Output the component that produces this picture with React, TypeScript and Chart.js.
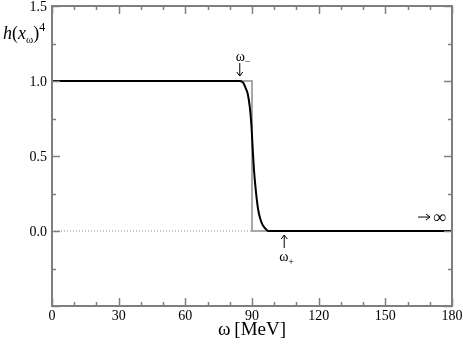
import React, { useEffect, useRef } from "react";
import { Chart, registerables } from "chart.js";

Chart.register(...registerables);

// Smooth form factor curve h(x_ω)^4
const omegaSmooth = [0, 40, 80, 84.6, 85.5, 86.2, 87.0, 88.1, 89.0, 89.7, 90.45, 90.9, 91.7, 92.8, 93.9, 94.8, 96.6, 97.4, 100, 140, 180];
const hSmooth = [1, 1, 1, 1, 0.995, 0.985, 0.958, 0.913, 0.827, 0.713, 0.513, 0.407, 0.273, 0.14, 0.073, 0.04, 0.007, 0, 0, 0, 0];

// Sharp step function
const omegaStep = [0, 90, 90, 180];
const hStep = [1, 1, 0, 0];

// Dotted zero line
const omegaDotted = [0, 90];
const hDotted = [0, 0];

// Tick values and labels
const xMajorTicks = [0, 30, 60, 90, 120, 150, 180];
const xTickLabels = ["0", "30", "60", "90", "120", "150", "180"];
const yMajorTicks = [0, 0.5, 1, 1.5];
const yTickLabels = ["0.0", "0.5", "1.0", "1.5"];

// Annotations (data positions)
const omegaMinusPos = [84.5, 1.0];
const omegaPlusPos = [104.5, 0.0];
const infinityPos = [164.7, 0.093];

const FONT = "'Liberation Serif', 'Times New Roman', serif";
const FRAME = "#7f7f7f";

const decorPlugin = {
  id: "decor",
  afterDraw(chart: any) {
    const ctx = chart.ctx;
    const xs = chart.scales.x;
    const ys = chart.scales.y;
    const a = chart.chartArea;
    ctx.save();
    // frame
    ctx.strokeStyle = FRAME;
    ctx.lineWidth = 2;
    ctx.strokeRect(a.left, a.top, a.right - a.left, a.bottom - a.top);
    // x ticks
    ctx.lineWidth = 1.5;
    for (let v = 0; v <= 180; v += 10) {
      const px = Math.round(xs.getPixelForValue(v)) + 0.5;
      const major = v % 30 === 0;
      const len = major ? 8 : 4;
      ctx.beginPath();
      ctx.moveTo(px, a.bottom);
      ctx.lineTo(px, a.bottom - len);
      ctx.moveTo(px, a.top);
      ctx.lineTo(px, a.top + len);
      ctx.stroke();
    }
    // y ticks
    for (let i = 0; i <= 8; i++) {
      const v = -0.5 + i * 0.25;
      const py = Math.round(ys.getPixelForValue(v)) + 0.5;
      const major = i % 2 === 0;
      const len = major ? 8 : 4;
      ctx.beginPath();
      ctx.moveTo(a.left, py);
      ctx.lineTo(a.left + len, py);
      ctx.moveTo(a.right, py);
      ctx.lineTo(a.right - len, py);
      ctx.stroke();
    }

    ctx.fillStyle = "#000";
    ctx.strokeStyle = "#000";

    // tick labels
    ctx.font = `14px ${FONT}`;
    ctx.textBaseline = "middle";
    ctx.textAlign = "right";
    yMajorTicks.forEach((v, i) => {
      ctx.fillText(yTickLabels[i], a.left - 5, ys.getPixelForValue(v) + 1);
    });
    ctx.textAlign = "center";
    ctx.textBaseline = "top";
    xMajorTicks.forEach((v, i) => {
      ctx.fillText(xTickLabels[i], xs.getPixelForValue(v), a.bottom + 3);
    });

    ctx.textBaseline = "alphabetic";
    // y-axis title h(x_ω)^4
    let x = 3;
    const by = 39;
    ctx.textAlign = "left";
    const seg = (t: string, font: string, dy: number) => {
      ctx.font = font;
      ctx.fillText(t, x, by + dy);
      x += ctx.measureText(t).width;
    };
    seg("h", `italic 18px ${FONT}`, 0);
    seg("(", `18px ${FONT}`, 0);
    seg("x", `italic 18px ${FONT}`, 0);
    seg("ω", `11px ${FONT}`, 4);
    seg(")", `18px ${FONT}`, 0);
    seg("4", `12px ${FONT}`, -8);

    // x-axis title
    ctx.textAlign = "center";
    ctx.font = `19px ${FONT}`;
    ctx.fillText("ω\u2009[MeV]", (a.left + a.right) / 2, 335);

    // ω- annotation
    const mx = xs.getPixelForValue(omegaMinusPos[0]);
    const my = ys.getPixelForValue(omegaMinusPos[1]);
    ctx.lineWidth = 1;
    ctx.beginPath();
    ctx.moveTo(mx, my - 18);
    ctx.lineTo(mx, my - 5);
    ctx.moveTo(mx - 3, my - 9);
    ctx.lineTo(mx, my - 5);
    ctx.lineTo(mx + 3, my - 9);
    ctx.stroke();
    ctx.textAlign = "left";
    ctx.font = `14px ${FONT}`;
    ctx.fillText("ω", mx - 4, my - 20);
    ctx.font = `10px ${FONT}`;
    ctx.fillText("−", mx + 5, my - 16);

    // ω+ annotation
    const px = xs.getPixelForValue(omegaPlusPos[0]);
    const py = ys.getPixelForValue(omegaPlusPos[1]);
    ctx.beginPath();
    ctx.moveTo(px, py + 17);
    ctx.lineTo(px, py + 4);
    ctx.moveTo(px - 3, py + 8);
    ctx.lineTo(px, py + 4);
    ctx.lineTo(px + 3, py + 8);
    ctx.stroke();
    ctx.font = `14px ${FONT}`;
    ctx.fillText("ω", px - 5, py + 30);
    ctx.font = `10px ${FONT}`;
    ctx.fillText("+", px + 4, py + 34);

    // → ∞
    const ix = xs.getPixelForValue(infinityPos[0]);
    const iy = ys.getPixelForValue(infinityPos[1]);
    ctx.beginPath();
    ctx.moveTo(ix, iy);
    ctx.lineTo(ix + 12, iy);
    ctx.moveTo(ix + 8, iy - 3);
    ctx.lineTo(ix + 12, iy);
    ctx.lineTo(ix + 8, iy + 3);
    ctx.stroke();
    ctx.font = `18px ${FONT}`;
    ctx.textBaseline = "middle";
    ctx.fillText("∞", ix + 15, iy + 1);
    ctx.restore();
  },
};

export default function App() {
  const ref = useRef<HTMLCanvasElement | null>(null);
  useEffect(() => {
    if (!ref.current) return;
    const chart = new Chart(ref.current, {
      type: "line",
      data: {
        datasets: [
          {
            data: omegaSmooth.map((v, i) => ({ x: v, y: hSmooth[i] })),
            borderColor: "#000",
            borderWidth: 2,
            pointRadius: 0,
            cubicInterpolationMode: "monotone",
            order: 0,
          },
          {
            data: omegaStep.map((v, i) => ({ x: v, y: hStep[i] })),
            borderColor: "#a8a8a8",
            borderWidth: 2,
            pointRadius: 0,
            tension: 0,
            order: 1,
          },
          {
            data: omegaDotted.map((v, i) => ({ x: v, y: hDotted[i] })),
            borderColor: "#8a8a8a",
            borderWidth: 1,
            borderDash: [1, 2],
            pointRadius: 0,
            order: 2,
          },
        ],
      },
      options: {
        animation: false,
        responsive: false,
        devicePixelRatio: 1,
        layout: { padding: { top: 6, right: 11, left: 0, bottom: 0 } },
        plugins: { legend: { display: false }, tooltip: { enabled: false } },
        scales: {
          x: {
            type: "linear",
            min: 0,
            max: 180,
            ticks: { display: false },
            grid: { display: false, drawTicks: false },
            border: { display: false },
            afterFit: (s: any) => {
              s.height = 40;
            },
          },
          y: {
            type: "linear",
            min: -0.5,
            max: 1.5,
            ticks: { display: false },
            grid: { display: false, drawTicks: false },
            border: { display: false },
            afterFit: (s: any) => {
              s.width = 52;
            },
          },
        },
      },
      plugins: [decorPlugin],
    } as any);
    return () => chart.destroy();
  }, []);
  return (
    <div style={{ position: "absolute", left: 0, top: 0, width: 463, height: 346, background: "#fff" }}>
      <canvas ref={ref} width={463} height={346} />
    </div>
  );
}
